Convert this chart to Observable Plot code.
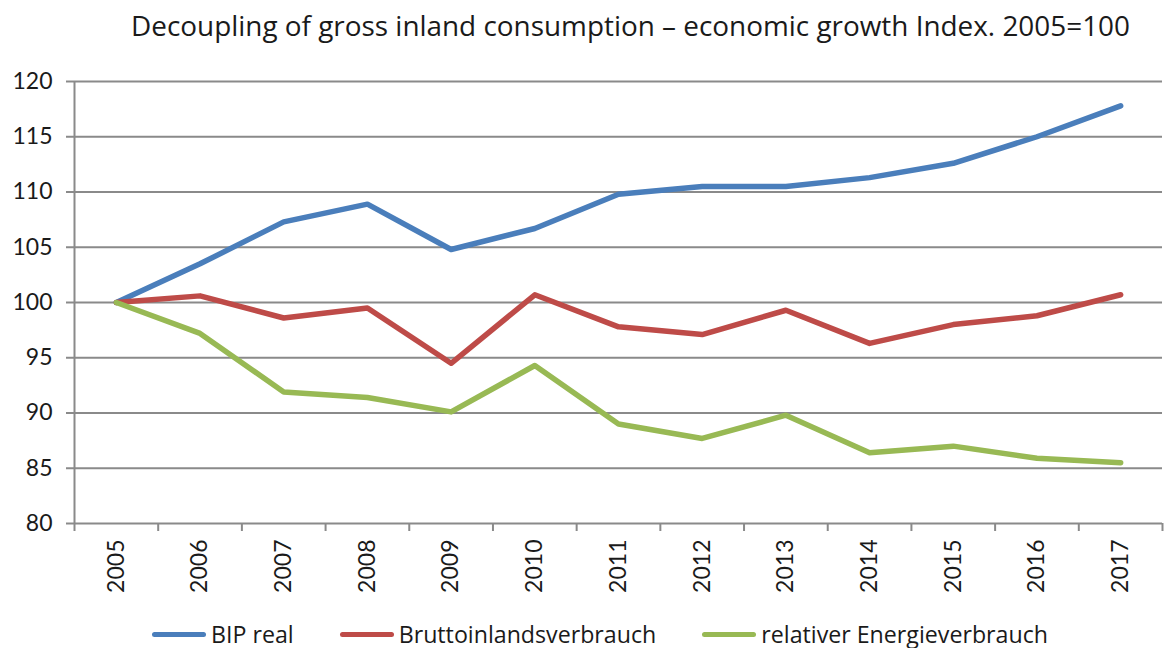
<!DOCTYPE html>
<html>
<head>
<meta charset="utf-8">
<script src="https://cdn.jsdelivr.net/npm/d3@7"></script>
<script src="https://cdn.jsdelivr.net/npm/@observablehq/plot@0.6"></script>
<style>
  html, body { margin: 0; padding: 0; background: #fff; }
  #wrap { position: relative; width: 1164px; height: 648px; font-family: Lato, "Open Sans", sans-serif; color: #1a1a1a; }
  #title { position: absolute; top: 6px; left: 0; width: 1164px; padding-left: 131px; box-sizing: border-box; font-family: "Open Sans", sans-serif; font-size: 27.9px; white-space: nowrap; }
  #legend { position: absolute; top: 618px; left: 152px; display: flex; font-family: "Open Sans", sans-serif; font-size: 23.2px; white-space: nowrap; }
  .item { display: flex; align-items: center; margin-right: 46px; }
  .sw { width: 54px; height: 5px; border-radius: 3px; margin-right: 5px; }
  svg { position: absolute; top: 0; left: 0; }
</style>
</head>
<body>
<div id="wrap">
  <div id="title">Decoupling of gross inland consumption – economic growth Index. 2005=100</div>
  <div id="chart"></div>
  <div id="legend"></div>
</div>
<script>
const years = [2005, 2006, 2007, 2008, 2009, 2010, 2011, 2012, 2013, 2014, 2015, 2016, 2017];
const bipReal = [100, 103.5, 107.3, 108.9, 104.8, 106.7, 109.8, 110.5, 110.5, 111.3, 112.6, 115.0, 117.8];
const brutto = [100, 100.6, 98.6, 99.5, 94.5, 100.7, 97.8, 97.1, 99.3, 96.3, 98.0, 98.8, 100.7];
const relativ = [100, 97.2, 91.9, 91.4, 90.1, 94.3, 89.0, 87.7, 89.8, 86.4, 87.0, 85.9, 85.5];
const seriesNames = ["BIP real", "Bruttoinlandsverbrauch", "relativer Energieverbrauch"];
const seriesColors = ["#4a7ebb", "#be4b48", "#98b954"];
const yTicks = [80, 85, 90, 95, 100, 105, 110, 115, 120];

const allSeries = [bipReal, brutto, relativ];
const data = [];
allSeries.forEach((vals, si) => vals.forEach((v, i) => data.push({year: years[i], value: v, series: seriesNames[si]})));
const boundaries = [...years.map(y => y - 0.5), years[years.length - 1] + 0.5];

const chart = Plot.plot({
  width: 1164,
  height: 648,
  marginTop: 81,
  marginBottom: 125,
  marginLeft: 74,
  marginRight: 2,
  style: { fontFamily: "Lato, 'Open Sans', sans-serif", fontSize: "23px", color: "#1a1a1a", background: "transparent" },
  x: { type: "linear", domain: [boundaries[0], boundaries[boundaries.length - 1]] },
  y: { domain: [80, 120] },
  color: { domain: seriesNames, range: seriesColors },
  marks: [
    Plot.gridY(yTicks.slice(1), { stroke: "#8a8a8a", strokeOpacity: 1, strokeWidth: 2 }),
    Plot.axisY({ ticks: yTicks, tickSize: 8, tickPadding: 14, stroke: "#8a8a8a", strokeWidth: 2, label: null, fontSize: 23 }),
    Plot.axisX({ ticks: boundaries, tickSize: 8, tickFormat: () => "", stroke: "#8a8a8a", strokeWidth: 2, label: null }),
    Plot.axisX({ ticks: years, tickSize: 0, tickPadding: 16, tickRotate: -90, tickFormat: d => String(d), label: null, fontSize: 23 }),
    Plot.ruleY([80], { stroke: "#8a8a8a", strokeWidth: 2 }),
    Plot.ruleX([boundaries[0]], { stroke: "#8a8a8a", strokeWidth: 2 }),
    Plot.line(data, { x: "year", y: "value", stroke: "series", z: "series", strokeWidth: 5.5, strokeLinejoin: "round", strokeLinecap: "round" })
  ]
});
document.getElementById("chart").appendChild(chart);

const legend = document.getElementById("legend");
seriesNames.forEach((n, i) => {
  const it = document.createElement("div");
  it.className = "item";
  it.innerHTML = `<span class="sw" style="background:${seriesColors[i]}"></span><span>${n}</span>`;
  legend.appendChild(it);
});
</script>
</body>
</html>
